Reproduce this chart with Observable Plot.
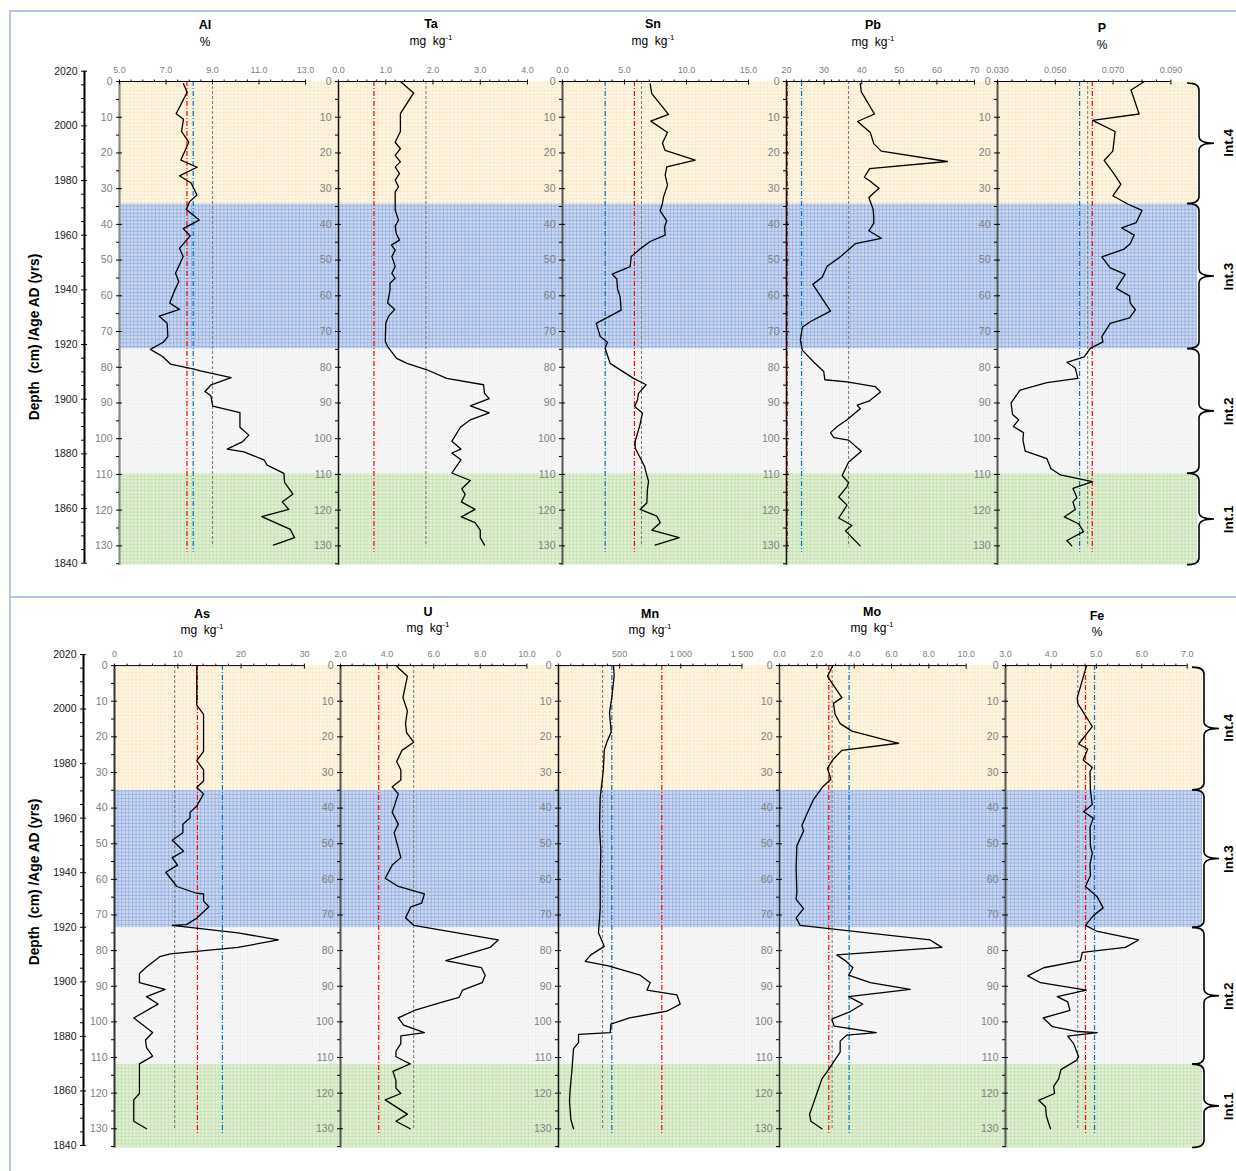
<!DOCTYPE html>
<html><head><meta charset="utf-8">
<script src="https://cdn.jsdelivr.net/npm/d3@7"></script>
<script src="https://cdn.jsdelivr.net/npm/@observablehq/plot@0.6"></script>
<style>
body{margin:0;background:#fff;font-family:"Liberation Sans",Arial,sans-serif;}
#root{position:relative;width:1236px;height:1171px;overflow:hidden;background:#fff;}
.panel{position:absolute;border:2px solid #b4c7e7;box-sizing:border-box;}
.ttl{position:absolute;transform:translate(-50%,-50%);text-align:center;white-space:nowrap;color:#000;line-height:1;}
.el{font-weight:bold;font-size:12.5px;}
.unit{font-size:12px;}
.unit sup{font-size:8px;vertical-align:5px;line-height:0;}
.ytitle{position:absolute;transform:translate(-50%,-50%) rotate(-90deg);font-weight:bold;font-size:13.8px;white-space:pre;line-height:1;}
</style>
</head><body>
<svg width="0" height="0" style="position:absolute">
<defs>
<pattern id="pInt4" width="3.6" height="3.6" patternUnits="userSpaceOnUse"><rect width="3.6" height="3.6" fill="#fef5e3"/><path d="M0,0H3.6M0,0V3.6" stroke="#f4dcaf" stroke-width="0.7"/></pattern>
<pattern id="pInt3" width="3.6" height="3.6" patternUnits="userSpaceOnUse"><rect width="3.6" height="3.6" fill="#c8d6f0"/><path d="M0,0H3.6M0,0V3.6" stroke="#6d90d4" stroke-width="0.8"/></pattern>
<pattern id="pInt2" width="3.6" height="3.6" patternUnits="userSpaceOnUse"><rect width="3.6" height="3.6" fill="#f7f7f7"/><path d="M0,0H3.6M0,0V3.6" stroke="#e8e8e8" stroke-width="0.6"/></pattern>
<pattern id="pInt1" width="3.6" height="3.6" patternUnits="userSpaceOnUse"><rect width="3.6" height="3.6" fill="#deefd3"/><path d="M0,0H3.6M0,0V3.6" stroke="#a9d18e" stroke-width="0.7"/></pattern>
</defs></svg>
<div id="root"></div>
<script>
// ---------------- DATA ----------------
const intervalNames = ["Int.4", "Int.3", "Int.2", "Int.1"];
const topBounds = [0, 34.3, 74.9, 109.8, 135.4];
const bottomBounds = [0, 35.0, 73.6, 112.0, 135.4];
const ageMajors = [1840, 1860, 1880, 1900, 1920, 1940, 1960, 1980, 2000, 2020];
const depthMajors = [0, 10, 20, 30, 40, 50, 60, 70, 80, 90, 100, 110, 120, 130];

const topElements = ["Al", "Ta", "Sn", "Pb", "P"];
const topUnits = ["%", "mg kg-1", "mg kg-1", "mg kg-1", "%"];
const topDomains = [[5, 13], [0, 4], [0, 15], [20, 70], [0.03, 0.09]];
const topMajors = [[5, 7, 9, 11, 13], [0, 1, 2, 3, 4], [0, 5, 10, 15], [20, 30, 40, 50, 60, 70], [0.03, 0.05, 0.07, 0.09]];
const topMinorSteps = [0.5, 0.2, 1, 2, 0.005];
const topFormats = [".1f", ".1f", ".1f", "d", ".3f"];
const topRed = [7.9, 0.75, 5.8, 20.2, 0.0628];
const topBlue = [8.17, null, 3.44, 24.0, 0.0584];
const topGrey = [9.0, 1.85, 6.37, 36.5, 0.0612];

const bottomElements = ["As", "U", "Mn", "Mo", "Fe"];
const bottomUnits = ["mg kg-1", "mg kg-1", "mg kg-1", "mg kg-1", "%"];
const bottomDomains = [[0, 30], [2, 10], [0, 1500], [0, 10], [3, 7]];
const bottomMajors = [[0, 10, 20, 30], [2, 4, 6, 8, 10], [0, 500, 1000, 1500], [0, 2, 4, 6, 8, 10], [3, 4, 5, 6, 7]];
const bottomMinorSteps = [2, 0.5, 100, 0.5, 0.25];
const bottomFormats = ["d", ".1f", "space", ".1f", ".1f"];
const bottomRed = [13.1, 3.64, 845, 2.64, 4.76];
const bottomBlue = [17.05, null, 436, 3.73, 4.96];
const bottomGrey = [9.5, 5.14, 360, 2.82, 4.59];

// [depth cm, value]
const al = [[0.6,7.75],[3,7.91],[9,7.44],[10.6,7.75],[14,7.67],[17,7.98],[22,7.64],[24,8.34],[26.4,7.58],[28.4,8.08],[31.8,8.33],[33.7,8.01],[35.8,7.87],[38.8,8.43],[41.2,7.74],[43.2,8.04],[46.7,7.58],[49,7.74],[53.7,7.41],[56,7.55],[58.4,7.38],[62,7.16],[63.8,7.58],[65.7,6.71],[67.7,7.05],[71.4,7.08],[73,6.88],[75,6.33],[77,6.85],[79.1,7.19],[80.5,8.2],[81,8.48],[82.9,9.8],[84.9,8.94],[86.8,8.68],[88,8.93],[90.9,9.01],[92.7,10.18],[96.8,10.18],[99,10.56],[100.8,10.3],[102.9,9.63],[103.7,10.35],[105.9,11.21],[107.4,11.35],[109.7,12.07],[112.2,12.1],[115.5,12.46],[117.7,12.0],[119.8,12.28],[121.8,11.12],[125.4,12.35],[127.7,12.53],[129.8,11.62]];
const ta = [[0,1.31],[3.2,1.59],[9,1.31],[14,1.31],[17,1.2],[18.8,1.31],[20.7,1.2],[22.5,1.31],[23.9,1.2],[25.8,1.29],[27.6,1.2],[29.5,1.27],[30.9,1.2],[36,1.2],[38.8,1.27],[40.5,1.2],[42.5,1.22],[44.4,1.29],[45.8,1.12],[47.2,1.2],[49,1.13],[51.8,1.2],[53.7,1.13],[55.1,1.2],[56.5,1.09],[58.4,1.09],[62,1.04],[63.8,1.19],[65.7,1.06],[67.7,1.0],[72.8,0.99],[74.2,1.04],[77.5,1.23],[78.9,1.45],[80.7,1.87],[83.1,2.29],[84.9,3.07],[87.3,3.09],[88.8,3.19],[90.8,2.79],[92.8,3.19],[94.7,2.79],[96.8,2.58],[100.7,2.4],[102.9,2.59],[104,2.4],[105.9,2.59],[109.6,2.4],[111.7,2.79],[114,2.61],[115.6,2.68],[117.7,2.6],[119.8,2.89],[121.9,2.6],[123.5,2.89],[125.6,3.0],[127.7,3.0],[129.8,3.09]];
const sn = [[0.7,7.07],[3.4,7.2],[9.2,8.55],[11.1,7.12],[14.3,8.47],[17.2,8.06],[19.3,8.28],[22,10.7],[23.9,8.41],[26.2,8.28],[29,8.47],[32.3,8.15],[34.1,8.06],[36.2,7.88],[39,8.41],[40.7,8.23],[43,8.28],[44.8,7.07],[47,6.21],[49,5.54],[51.8,5.46],[53.9,4.0],[55.3,4.38],[58.1,4.44],[60.3,4.65],[64,4.73],[67.7,2.72],[71.4,3.04],[73,3.63],[74.7,3.44],[78.9,3.84],[83.1,5.73],[84.9,6.75],[87.3,6.13],[89.1,6.05],[91,5.81],[92.8,6.45],[96.6,6.21],[100.7,5.86],[102.6,5.86],[107.7,6.61],[109.6,6.75],[111.9,6.94],[114.2,6.85],[118,6.8],[119.8,6.26],[121.7,7.61],[123.5,7.88],[125.6,7.2],[127.7,9.41],[129.8,7.47]];
const pb = [[0.5,39.6],[2.9,39.9],[9.1,43.4],[11.2,38.9],[14.3,42.3],[17.4,43.2],[19.5,45.2],[22.4,62.8],[24.4,42.1],[26.8,40.7],[27.8,42.1],[29.9,44.6],[32.5,41.9],[35.6,43.0],[37.7,43.2],[39.7,43.2],[41.8,41.9],[43.9,45.2],[45.4,38.3],[49.1,34.3],[51.7,30.8],[54.8,29.5],[56.8,27.0],[64.3,31.7],[67.2,26.4],[68.8,24.2],[72.4,23.7],[75.2,24.2],[78.6,27.3],[81.2,29.9],[83.5,30.2],[84.1,36.1],[85.4,43.6],[86.9,45.0],[89.5,41.9],[90.6,38.8],[91.6,39.6],[94.7,36.1],[96.6,33.5],[98.3,31.7],[99.7,32.6],[100.4,36.5],[103.5,39.9],[106.6,36.5],[110.3,34.8],[112.3,36.5],[113.4,36.1],[116.3,33.9],[118.6,36.1],[122.2,33.9],[124.3,37.4],[125.8,35.7],[130,39.6]];
const p = [[0,0.0808],[2.4,0.0762],[9.1,0.079],[10.9,0.0629],[14,0.0707],[19.5,0.0699],[22.1,0.0669],[25.7,0.0702],[28.8,0.0727],[32,0.0699],[34.3,0.075],[36.1,0.08],[39.5,0.078],[41,0.073],[43,0.0773],[45.4,0.0759],[47,0.0736],[49.1,0.0661],[52.2,0.069],[54,0.0742],[57.9,0.0711],[60,0.0757],[62,0.0759],[63.9,0.0777],[66.2,0.0757],[67.7,0.069],[71.4,0.0661],[72.9,0.0665],[74.7,0.0621],[77.1,0.06],[78.6,0.054],[80.2,0.0569],[83.1,0.0578],[84.3,0.0471],[86.4,0.0378],[90,0.0347],[93.2,0.0352],[94.7,0.0373],[96.6,0.0355],[98.3,0.039],[100.4,0.0388],[103.5,0.0396],[105.6,0.0471],[108.4,0.0485],[110.1,0.0517],[112,0.0629],[113.9,0.0561],[116.5,0.0575],[117.7,0.0561],[119.8,0.0569],[121.9,0.0531],[123.8,0.058],[126,0.0598],[128.5,0.054],[130,0.0557]];

const as = [[0.2,13.0],[11.1,13.0],[13.7,14.07],[24.1,14.07],[26.7,13.0],[29.3,14.07],[32.4,14.07],[34.2,13.0],[36,14.07],[39.4,13.0],[41.2,11.93],[42.8,11.93],[44.5,10.8],[46.9,10.8],[49,9.12],[52.1,10.92],[53.9,9.12],[56,9.96],[58,8.1],[62,9.85],[63.9,12.94],[64.1,14.07],[66.1,14.07],[67.7,14.91],[70.8,13.06],[72.7,11.37],[72.9,9.12],[75,19.5],[77,25.9],[79.1,19.5],[80.9,8.83],[81.7,7.15],[84.6,5.06],[86.4,3.94],[89,3.94],[90.9,7.99],[92.9,5.06],[95,6.87],[98.9,3.04],[100.9,4.5],[103,6.02],[105.1,4.9],[107.2,5.06],[109.6,6.02],[111.8,3.94],[120.1,3.94],[121.9,3.04],[127.9,3.04],[130,5.06]];
const u = [[0.2,4.41],[3,4.87],[9,4.68],[12.7,4.87],[16.3,4.79],[18.9,4.84],[21.5,5.14],[23.8,4.64],[26.9,4.41],[29.3,4.59],[32.1,4.59],[34,4.22],[36,4.48],[41.2,4.22],[44.5,4.48],[46.9,4.3],[53.9,4.59],[56,4.22],[59.7,3.92],[62,4.48],[64.1,5.6],[66.7,5.48],[67.7,5.02],[70.8,4.79],[72.9,5.14],[77,8.77],[79.1,8.42],[82.8,6.52],[84.8,8.05],[86.9,8.21],[89,8.08],[91.1,7.24],[93.1,7.09],[94.4,6.4],[96.8,5.17],[98.9,4.48],[100.9,4.71],[103,5.6],[103.9,4.59],[106.1,4.59],[108.2,4.38],[109.8,4.38],[111.8,4.99],[113.9,4.25],[116.5,4.38],[118.6,4.38],[120.1,4.59],[121.9,3.92],[125.9,4.87],[127.9,4.38],[130,4.99]];
const mn = [[0.2,450],[2.8,455],[9,436],[13.2,417],[18.6,431],[21.5,395],[23.8,374],[28.8,368],[32.9,355],[37.1,341],[45.4,335],[51.6,346],[59.9,341],[68.2,341],[75,327],[78.8,374],[81.2,265],[83,218],[84.3,409],[86.9,668],[89,750],[91.1,723],[92.4,968],[95,995],[97,886],[98.9,581],[100.6,428],[103,423],[103.5,164],[105.8,164],[107.5,123],[110.3,117],[113.9,109],[119.1,95],[122.2,90],[127.4,101],[130,123]];
const mo = [[0.2,2.84],[3,2.57],[9,3.34],[10.6,2.89],[13.7,2.98],[16.3,3.25],[18.4,3.88],[21.8,6.38],[23.8,3.34],[26.2,2.89],[28.8,2.57],[31.9,2.75],[34,2.32],[37.6,1.82],[41.7,1.46],[44.9,1.2],[46.4,1.29],[50.6,0.93],[56.8,0.89],[63.6,0.93],[65.6,0.89],[68.2,1.29],[70.8,0.89],[72.9,1.11],[77,8.07],[79.1,8.7],[81.2,3.07],[82.8,3.52],[84.8,3.93],[86.9,3.7],[89,4.86],[90.9,7.0],[92.9,3.7],[95,4.46],[97.1,3.79],[99.2,2.8],[101.2,2.93],[103,5.18],[103.7,3.61],[105.4,3.25],[108.5,3.25],[111.3,2.89],[113.4,2.63],[116,2.27],[120.1,2.0],[123.3,1.79],[125.9,1.61],[127.9,1.68],[130,2.27]];
const fe = [[0.2,4.78],[9,4.58],[10.6,4.59],[17.1,4.91],[22,4.61],[23.4,4.81],[26.5,4.71],[28.6,4.91],[29.8,4.86],[35,4.87],[39,4.91],[41,4.72],[42.8,4.93],[45.4,4.86],[50.6,4.87],[52.6,4.91],[55.8,4.86],[58.9,4.87],[62,4.76],[64.9,5.02],[68,5.15],[70.1,4.94],[72.9,4.76],[74.5,5.0],[77,5.93],[79.1,5.64],[80.5,4.69],[82.8,4.65],[84.8,3.84],[87.1,3.49],[89,3.77],[91.1,4.78],[92.9,4.14],[94.4,4.37],[96.8,4.42],[98.9,3.83],[101.3,4.03],[102.7,4.59],[103,5.02],[104,4.37],[106.1,4.5],[109.8,4.61],[110.8,4.56],[113.4,4.22],[116,4.17],[118.1,4.06],[120.1,4.08],[122,3.73],[123.8,3.88],[126.4,3.9],[130,3.99]];

const topSeries = [al, ta, sn, pb, p];
const bottomSeries = [as, u, mn, mo, fe];

// ---------------- LAYOUT / STYLE ----------------
const FONT = "'Liberation Sans', Arial, sans-serif";
const bandFills = ["url(#pInt4)", "url(#pInt3)", "url(#pInt2)", "url(#pInt1)"];
const panels = [
  {svgTop: 40, depth0: 81, ppc: 3.572, age2020: 70.7, age1840: 562.7, ageX: 84, bandLeft: 119, bandRight: 1197,
   axisX: [119, 338, 562, 786, 997], axisLen: [186, 189, 186, 188, 173.4],
   axisColor: ["#8a8a8a", "#111", "#555", "#111", "#555"], axisWidth: [2.2, 1.5, 2, 1.5, 2],
   titleX: [205, 431, 653, 873, 1102], titleY: [25, 24, 24, 25, 28], unitDy: 16.5,
   bounds: topBounds, elements: topElements, units: topUnits, domains: topDomains, majors: topMajors,
   minorSteps: topMinorSteps, formats: topFormats, red: topRed, blue: topBlue, grey: topGrey, series: topSeries,
   ytitleY: 337, labelOff: 31},
  {svgTop: 625, depth0: 665.1, ppc: 3.563, age2020: 654, age1840: 1145, ageX: 83, bandLeft: 114, bandRight: 1202,
   axisX: [114, 340.4, 558.3, 779.3, 1005], axisLen: [189.9, 186.4, 183.4, 186.7, 181.7],
   axisColor: ["#333", "#555", "#111", "#333", "#555"], axisWidth: [2, 2, 1.5, 1.5, 2],
   titleX: [202, 428, 650, 872, 1097], titleY: [614, 612, 614, 612, 616], unitDy: 16,
   bounds: bottomBounds, elements: bottomElements, units: bottomUnits, domains: bottomDomains, majors: bottomMajors,
   minorSteps: bottomMinorSteps, formats: bottomFormats, red: bottomRed, blue: bottomBlue, grey: bottomGrey, series: bottomSeries,
   ytitleY: 882, labelOff: 26}
];
const MAXD = 135.4;
const root = document.getElementById("root");
const spaceFmt = d3.formatLocale({decimal: ".", thousands: "\u00a0", grouping: [3], currency: ["", ""]}).format(",d");
function getFmt(f) { return f === "space" ? spaceFmt : d3.format(f); }
const plotStyle = `background:none;overflow:visible;font-family:${FONT};`;

function place(svg, left, top) {
  svg.style.position = "absolute";
  svg.style.left = left + "px";
  svg.style.top = top + "px";
  root.appendChild(svg);
}

// panel borders
const b1 = document.createElement("div"); b1.className = "panel";
Object.assign(b1.style, {left: "9px", top: "10px", width: "1240px", height: "588px"});
root.appendChild(b1);
const b2 = document.createElement("div"); b2.className = "panel";
Object.assign(b2.style, {left: "9px", top: "596px", width: "1240px", height: "600px", borderTop: "none"});
root.appendChild(b2);

function bracePath(x0, xb, xt, y1, y2) {
  const ym = (y1 + y2) / 2, r = 7;
  return `M${x0},${y1} Q${xb},${y1} ${xb},${y1 + r} L${xb},${ym - r} Q${xb},${ym} ${xt},${ym} Q${xb},${ym} ${xb},${ym + r} L${xb},${y2 - r} Q${xb},${y2} ${x0},${y2}`;
}

panels.forEach(P => {
  const mt = P.depth0 - P.svgTop;
  const yRange = [mt, mt + MAXD * P.ppc];
  const H = Math.ceil(yRange[1] + 15);
  const bands = intervalNames.map((name, i) => ({name, top: P.bounds[i], bottom: P.bounds[i + 1], fill: bandFills[i]}));

  // background bands + braces + interval labels
  const bw = P.bandRight - P.bandLeft;
  const bg = Plot.plot({
    width: 1236 - P.bandLeft, height: H, marginLeft: 0, marginRight: 0, marginTop: mt, marginBottom: H - yRange[1],
    style: plotStyle,
    x: {domain: [0, 1], range: [0, bw], axis: null},
    y: {domain: [0, MAXD], range: yRange, axis: null},
    marks: [
      ...bands.map(b => Plot.rect([b], {x1: 0, x2: 1, y1: "top", y2: "bottom", fill: b.fill})),
      (index, scales) => {
        const g = d3.create("svg:g");
        bands.forEach((b, i) => {
          const y1 = scales.y(b.top) + (i === 0 ? 2 : 0), y2 = scales.y(b.bottom);
          g.append("path").attr("d", bracePath(bw - 10, bw + 2, bw + 17, y1, y2))
            .attr("fill", "none").attr("stroke", "#000").attr("stroke-width", 1.6);
        });
        return g.node();
      },
      Plot.text(bands, {x: 1, y: d => (d.top + d.bottom) / 2, text: "name", rotate: -90, dx: P.labelOff,
        fontWeight: "bold", fontSize: 13.5, fill: "#000"})
    ]
  });
  place(bg, P.bandLeft, P.svgTop);

  // element plots
  P.elements.forEach((el, i) => {
    const ML = 45;
    const nextX = i < 4 ? P.axisX[i + 1] : P.bandRight;
    const W = ML + (nextX - P.axisX[i]);
    const dom = P.domains[i];
    const majors = P.majors[i];
    const step = P.minorSteps[i];
    const minors = d3.range(dom[0], dom[1] + step / 2, step).filter(v => !majors.some(m => Math.abs(m - v) < step / 10));
    const depthMinors = d3.range(5, MAXD, 10);
    const marks = [];
    if (P.grey[i] != null) marks.push(Plot.ruleX([P.grey[i]], {y1: 0, y2: 130.3, stroke: "#7f7f7f", strokeWidth: 1.1, strokeDasharray: "3,2"}));
    if (P.blue[i] != null) marks.push(Plot.ruleX([P.blue[i]], {y1: 0, y2: 131.8, stroke: "#0070c0", strokeWidth: 1.2, strokeDasharray: "5,2,1,2"}));
    if (P.red[i] != null) marks.push(Plot.ruleX([P.red[i]], {y1: 0, y2: 131.8, stroke: "#ff0000", strokeWidth: 1.2, strokeDasharray: "5,2,1,2"}));
    marks.push(
      Plot.ruleX([dom[0]], {y1: 0, y2: MAXD, stroke: P.axisColor[i], strokeWidth: P.axisWidth[i]}),
      Plot.ruleY([0], {x1: dom[0], x2: dom[1], stroke: "#000", strokeWidth: 1}),
      Plot.axisX(majors, {anchor: "top", tickSize: 0, tickPadding: 9, tickFormat: getFmt(P.formats[i]), fill: "#808080", fontSize: 9, label: null}),
      Plot.axisX(majors, {anchor: "top", tickSize: 5, dy: 2.5, tickFormat: () => "", stroke: "#000", label: null}),
      Plot.axisX(minors, {anchor: "top", tickSize: 2.5, tickFormat: () => "", stroke: "#000", label: null}),
      Plot.axisY(depthMajors, {anchor: "left", tickSize: 0, tickPadding: 7, tickFormat: "d", fill: "#808080", fontSize: 10.5, label: null}),
      Plot.axisY(depthMajors, {anchor: "left", tickSize: 6, dx: 3, tickFormat: () => "", stroke: "#000", label: null}),
      Plot.axisY(depthMinors, {anchor: "left", tickSize: 3, tickFormat: () => "", stroke: "#000", label: null}),
      Plot.line(P.series[i], {x: d => d[1], y: d => d[0], stroke: "#000", strokeWidth: 1.3})
    );
    const svg = Plot.plot({
      width: W, height: H, marginLeft: ML, marginRight: W - ML - P.axisLen[i], marginTop: mt, marginBottom: H - yRange[1],
      style: plotStyle,
      x: {domain: dom, range: [ML, ML + P.axisLen[i]]},
      y: {domain: [0, MAXD], range: yRange},
      marks
    });
    place(svg, P.axisX[i] - ML, P.svgTop);

    // titles
    const t = document.createElement("div"); t.className = "ttl el"; t.textContent = el;
    Object.assign(t.style, {left: P.titleX[i] + "px", top: P.titleY[i] + "px"});
    root.appendChild(t);
    const un = document.createElement("div"); un.className = "ttl unit";
    if (P.units[i] === "mg kg-1") un.innerHTML = "mg&nbsp;&nbsp;kg<sup>-1</sup>"; else un.textContent = P.units[i];
    Object.assign(un.style, {left: P.titleX[i] + "px", top: (P.titleY[i] + P.unitDy) + "px"});
    root.appendChild(un);
  });

  // age axis
  const ageMinors = d3.range(1840, 2021, 5).filter(v => v % 20 !== 0);
  const ag = Plot.plot({
    width: 110, height: H, marginLeft: P.ageX, marginRight: 0, marginTop: P.age2020 - P.svgTop, marginBottom: H - (P.age1840 - P.svgTop),
    style: plotStyle,
    x: {domain: [0, 1], range: [P.ageX, 110], axis: null},
    y: {domain: [1840, 2020], range: [P.age1840 - P.svgTop, P.age2020 - P.svgTop]},
    marks: [
      Plot.ruleX([0], {y1: 1840, y2: 2020, stroke: "#000", strokeWidth: 2}),
      Plot.axisY(ageMajors, {anchor: "left", tickSize: 6, dx: 3, tickFormat: () => "", stroke: "#000", label: null}),
      Plot.axisY(ageMinors, {anchor: "left", tickSize: 3, tickFormat: () => "", stroke: "#000", label: null}),
      Plot.axisY(ageMajors, {anchor: "left", tickSize: 0, tickPadding: 7, tickFormat: "d", fill: "#1a1a1a", fontSize: 10.5, label: null})
    ]
  });
  place(ag, 0, P.svgTop);

  const yt = document.createElement("div"); yt.className = "ytitle";
  yt.textContent = "Depth  (cm) /Age AD (yrs)";
  Object.assign(yt.style, {left: "35px", top: P.ytitleY + "px"});
  root.appendChild(yt);
});
</script>
</body></html>
